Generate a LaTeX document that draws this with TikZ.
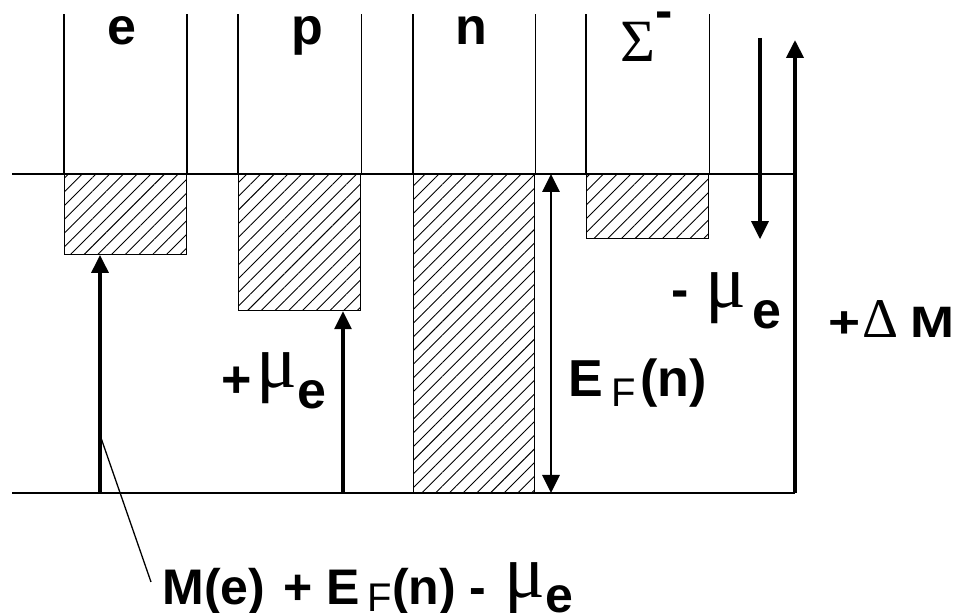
\documentclass[tikz,border=0pt]{standalone}
\usepackage{fontspec}
\usepackage{graphicx}
\setmainfont{Liberation Sans}
\newfontfamily\grkfont{Liberation Serif}
\usetikzlibrary{arrows.meta,patterns.meta}
\newcommand\grtxt[2]{{\grkfont\mdseries\fontsize{#1}{#1}\selectfont #2}}
\newcommand\subF[1]{{\mdseries\fontsize{#1}{#1}\selectfont F}}
\begin{document}
\begin{tikzpicture}[x=0.5pt,y=-0.5pt,
  thinln/.style={line width=0.6pt},
  hatchbox/.style={draw, line width=0.6pt, inner sep=0pt, anchor=north west,
    pattern={Lines[angle=45,distance=4.85pt,line width=0.45pt]}},
  arr/.style={line width=1.6pt, -{Triangle[length=9pt,width=8.5pt]}},
  arrboth/.style={line width=1.4pt, {Triangle[length=9pt,width=8.5pt]}-{Triangle[length=9pt,width=8.5pt]}},
  lbl/.style={inner sep=0pt, font=\fontsize{26}{26}\selectfont\bfseries},
]
\useasboundingbox (0,0) rectangle (954,613);

% filled parts of the wells
\node[hatchbox, minimum width=61pt, minimum height=40pt] (ebox) at (64,174) {};
\node[hatchbox, minimum width=61pt, minimum height=68pt] (pbox) at (238,174) {};
\node[hatchbox, minimum width=60.5pt, minimum height=159.5pt] (nbox) at (413,174) {};
\node[hatchbox, minimum width=61pt, minimum height=32pt] (sbox) at (586,174) {};

% column walls
\foreach \b in {ebox,pbox,nbox,sbox}{
  \draw[thinln] (\b.north west) -- ++(0,-160);
  \draw[thinln] (\b.north east) -- ++(0,-160);
}

% level lines
\coordinate (fl) at (12,174);
\coordinate (fr) at (793,174);
\draw[thinln] (fl) -- (fr);
\coordinate (bl) at (12,493);
\coordinate (br) at (795,493);
\draw[thinln] (bl) -- (br);

% arrows
\coordinate (ea) at (100,493);
\draw[arr] (ea) -- (ea |- ebox.south);
\coordinate (pa) at (343,493);
\draw[arr] (pa) -- (pa |- pbox.south);
\coordinate (efb) at (551,493);
\coordinate (eft) at (551,174);
\draw[arrboth] (efb) -- (eft);
\coordinate (mt) at (760,38);
\draw[arr] (mt) -- (mt |- sbox.south);
\coordinate (dmt) at (795,40);
\draw[arr, line width=2pt] (br) -- (dmt);

% leader line
\coordinate (lead1) at (100,435);
\coordinate (lead2) at (151,582);
\draw[line width=0.65pt] (lead1) -- (lead2);

% column labels
\node[lbl, anchor=base] (le) at (122,45) {e};
\node[lbl, anchor=base] (lp) at (307,45) {p};
\node[lbl, anchor=base] (ln) at (471,45) {n};
\node[lbl, anchor=base west] (ls) at (620,62) {\grtxt{30}{Σ}\smash{\raisebox{16.5pt}{-}}};

% energy labels
\node[lbl, anchor=base west] (lmum) at (671,308) {-\hspace{8.5pt}\grtxt{38}{μ}\hspace{3pt}\raisebox{-10.5pt}{e}};
\node[lbl, anchor=base west] (lmup) at (221,398) {+\hspace{2.5pt}\raisebox{5pt}{\grtxt{38}{μ}}\raisebox{-5.5pt}{e}};
\node[lbl, anchor=base west] (lef) at (568,397) {E\hspace{4pt}\raisebox{-5pt}{\subF{20}}\hspace{2.5pt}(n)};
\node[lbl, anchor=base west, font=\fontsize{22}{22}\selectfont\bfseries] (ldm) at (828,338)
  {\scalebox{1.25}[1]{+}\hspace{1pt}\grtxt{28}{Δ}\hspace{6pt}\scalebox{1.2}[1]{M}};
\node[lbl, anchor=base west, font=\fontsize{25}{25}\selectfont\bfseries] (lbot) at (162,605)
  {M(e)\hspace{9pt}+\hspace{7pt}E\hspace{4pt}\raisebox{-3.5pt}{\subF{20}}(n)\hspace{7pt}-\hspace{9pt}\raisebox{3.5pt}{\grtxt{38}{μ}}\raisebox{-4pt}{e}};
\end{tikzpicture}
\end{document}
